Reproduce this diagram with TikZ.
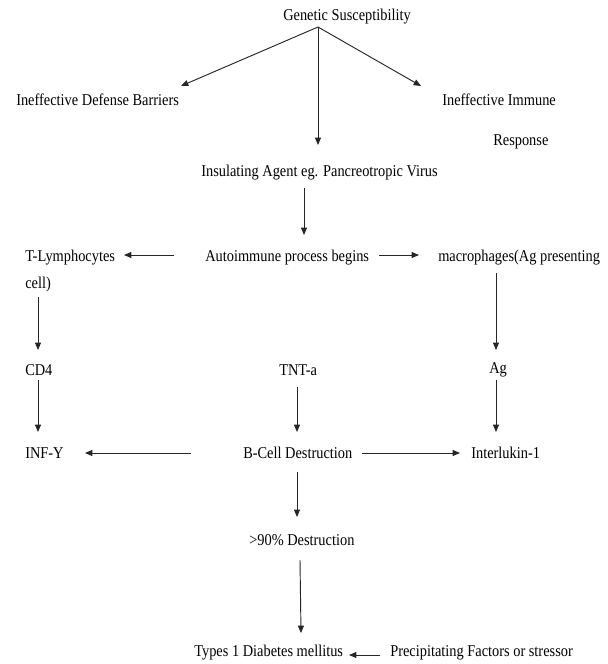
\documentclass[tikz,border=0pt]{standalone}
\usepackage{fontspec}
\setmainfont{Liberation Serif}[FakeStretch=0.87]
\usetikzlibrary{arrows.meta,calc}
\begin{document}
\begin{tikzpicture}[x=0.75pt,y=-0.75pt,
  lbl/.style={anchor=west,inner sep=0pt,font=\fontsize{12.4pt}{14pt}\selectfont},
  arr/.style={-{Triangle[length=5.5pt,width=4.5pt]},line width=0.7pt,draw=black!85},
  ln/.style={line width=0.7pt,draw=black!85}]
\useasboundingbox[fill=white] (0,0) rectangle (607,664);
\node[lbl] (gen) at (283,17) {Genetic Susceptibility};
\node[lbl] (idb) at (16,100) {Ineffective Defense Barriers};
\node[lbl] (iim) at (442,100) {Ineffective Immune};
\node[lbl] (resp) at (493,142) {Response};
\node[lbl] (ins) at (201,173) {Insulating Agent eg. Pancreotropic Virus};
\node[lbl] (tly) at (25,258) {T-Lymphocytes};
\node[lbl] (auto) at (205,258) {Autoimmune process begins};
\node[lbl] (mac) at (438,258) {macrophages(Ag presenting};
\node[lbl] (cell) at (25,285) {cell)};
\node[lbl] (cd4) at (25,370) {CD4};
\node[lbl] (tnt) at (279,370) {TNT-a};
\node[lbl] (ag) at (489,370) {Ag};
\node[lbl] (inf) at (25,453) {INF-Y};
\node[lbl] (bcd) at (243,453) {B-Cell Destruction};
\node[lbl] (il1) at (471,453) {Interlukin-1};
\node[lbl] (d90) at (249,540) {>90\% Destruction};
\node[lbl] (t1d) at (194,653) {Types 1 Diabetes mellitus};
\node[lbl] (pf) at (390,653) {Precipitating Factors or stressor};

\draw[arr] ($(gen.west)+(35,10)$) -- ($(idb.west)+(165,-14)$);
\draw[arr] ($(gen.west)+(35,10)$) -- ($(iim.west)+(-21,-14)$);
\draw[arr] ($(gen.west)+(35,10)$) -- ($(ins.west)+(117,-28)$);
\draw[arr] ($(ins.west)+(103,15)$) -- ($(auto.west)+(99,-23)$);
\draw[arr] ($(auto.west)+(-31,-3)$) -- ($(tly.west)+(99,-3)$);
\draw[arr] ($(auto.west)+(174,-3)$) -- ($(mac.west)+(-19,-3)$);
\draw[arr] ($(cell.west)+(13,12)$) -- ($(cd4.west)+(13,-20)$);
\draw[arr] ($(mac.west)+(58,15)$) -- ($(ag.west)+(7,-20)$);
\draw[arr] ($(cd4.west)+(13,10)$) -- ($(inf.west)+(13,-21)$);
\draw[arr] ($(tnt.west)+(18,17)$) -- ($(bcd.west)+(54,-21)$);
\draw[arr] ($(ag.west)+(7,10)$) -- ($(il1.west)+(25,-21)$);
\draw[arr] ($(bcd.west)+(-52,0)$) -- ($(inf.west)+(60,0)$);
\draw[arr] ($(bcd.west)+(119,0)$) -- ($(il1.west)+(-11,0)$);
\draw[arr] ($(bcd.west)+(54,19)$) -- ($(d90.west)+(48,-23)$);
\draw[arr] ($(d90.west)+(51,20)$) -- ($(t1d.west)+(107,-20)$);
\draw[arr] ($(pf.west)+(-10,2)$) -- ($(t1d.west)+(155,2)$);
\end{tikzpicture}
\end{document}
